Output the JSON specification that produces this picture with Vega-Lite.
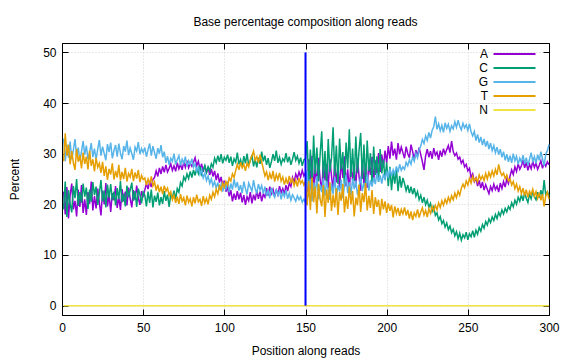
{
"$schema": "https://vega.github.io/schema/vega-lite/v6.json",
"width": 487, "height": 272,
"autosize": {"type": "none"},
"padding": {"left": 62, "top": 43, "right": 27, "bottom": 45},
"title": {"text": "Base percentage composition along reads", "fontSize": 12, "fontWeight": "normal", "font": "Liberation Sans", "offset": 14, "color": "black", "anchor": "middle"},
"config": {
  "view": {"stroke": "black", "strokeWidth": 1},
  "font": "Liberation Sans",
  "axis": {"labelFontSize": 12, "labelColor": "black", "labelFont": "Liberation Sans", "titleFont": "Liberation Sans", "titleFontSize": 12, "titleFontWeight": "normal", "titleColor": "black", "tickColor": "black", "domainColor": "black", "gridColor": "#c8c8c8", "gridDash": [1, 2], "gridWidth": 0.8, "tickSize": -6, "tickWidth": 1, "labelFlush": false}
},
"resolve": {"axis": {"x": "independent", "y": "independent"}},
"datasets": {
"comp": [
{"pos":1,"A":22.5,"C":19.0,"G":33.0,"T":28.5,"N":0},
{"pos":2,"A":18.0,"C":24.5,"G":28.5,"T":34.0,"N":0},
{"pos":3,"A":23.4,"C":17.5,"G":31.8,"T":29.6,"N":0},
{"pos":4,"A":17.2,"C":22.8,"G":29.2,"T":31.8,"N":0},
{"pos":5,"A":21.8,"C":20.1,"G":32.4,"T":27.9,"N":0},
{"pos":6,"A":24.1,"C":18.4,"G":28.9,"T":30.5,"N":0},
{"pos":7,"A":19.0,"C":23.6,"G":30.7,"T":28.2,"N":0},
{"pos":8,"A":20.7,"C":21.2,"G":32.9,"T":26.8,"N":0},
{"pos":9,"A":17.6,"C":25.0,"G":29.5,"T":30.9,"N":0},
{"pos":10,"A":22.9,"C":19.7,"G":31.2,"T":28.4,"N":0},
{"pos":11,"A":19.5,"C":22.4,"G":28.6,"T":29.7,"N":0},
{"pos":12,"A":23.8,"C":20.3,"G":30.4,"T":27.1,"N":0},
{"pos":13,"A":18.3,"C":24.1,"G":32.5,"T":30.2,"N":0},
{"pos":14,"A":21.0,"C":21.5,"G":29.8,"T":28.0,"N":0},
{"pos":15,"A":17.9,"C":23.3,"G":31.6,"T":29.4,"N":0},
{"pos":16,"A":22.4,"C":19.1,"G":28.9,"T":26.9,"N":0},
{"pos":17,"A":20.1,"C":22.9,"G":30.2,"T":30.6,"N":0},
{"pos":18,"A":24.5,"C":20.5,"G":32.1,"T":27.6,"N":0},
{"pos":19,"A":18.8,"C":24.4,"G":29.3,"T":28.9,"N":0},
{"pos":20,"A":21.6,"C":21.8,"G":31.0,"T":26.5,"N":0},
{"pos":21,"A":19.2,"C":23.5,"G":28.8,"T":29.2,"N":0},
{"pos":22,"A":23.1,"C":19.9,"G":30.9,"T":27.3,"N":0},
{"pos":23,"A":20.4,"C":22.2,"G":32.7,"T":28.1,"N":0},
{"pos":24,"A":17.8,"C":24.8,"G":29.6,"T":26.2,"N":0},
{"pos":25,"A":22.7,"C":20.6,"G":31.4,"T":28.4,"N":0},
{"pos":26,"A":20.0,"C":22.7,"G":30.0,"T":25.6,"N":0},
{"pos":27,"A":24.2,"C":19.4,"G":28.7,"T":27.5,"N":0},
{"pos":28,"A":19.6,"C":23.9,"G":31.9,"T":24.8,"N":0},
{"pos":29,"A":21.9,"C":21.3,"G":30.3,"T":27.0,"N":0},
{"pos":30,"A":18.5,"C":24.0,"G":32.2,"T":25.9,"N":0},
{"pos":31,"A":22.2,"C":20.8,"G":29.1,"T":28.1,"N":0},
{"pos":32,"A":20.8,"C":22.5,"G":30.6,"T":24.9,"N":0},
{"pos":33,"A":23.6,"C":19.8,"G":31.7,"T":26.6,"N":0},
{"pos":34,"A":19.3,"C":23.2,"G":29.4,"T":25.3,"N":0},
{"pos":35,"A":21.4,"C":21.0,"G":32.0,"T":27.8,"N":0},
{"pos":36,"A":18.9,"C":24.6,"G":30.1,"T":24.7,"N":0},
{"pos":37,"A":23.0,"C":20.4,"G":28.9,"T":26.4,"N":0},
{"pos":38,"A":20.6,"C":22.1,"G":31.5,"T":25.0,"N":0},
{"pos":39,"A":22.5,"C":19.6,"G":30.4,"T":27.2,"N":0},
{"pos":40,"A":19.8,"C":23.7,"G":32.6,"T":24.5,"N":0},
{"pos":41,"A":23.3,"C":21.4,"G":29.7,"T":26.1,"N":0},
{"pos":42,"A":21.1,"C":22.8,"G":31.1,"T":25.4,"N":0},
{"pos":43,"A":19.4,"C":24.3,"G":30.0,"T":27.0,"N":0},
{"pos":44,"A":22.8,"C":20.7,"G":28.8,"T":24.6,"N":0},
{"pos":45,"A":20.9,"C":22.6,"G":31.3,"T":26.3,"N":0},
{"pos":46,"A":23.7,"C":19.5,"G":30.5,"T":25.1,"N":0},
{"pos":47,"A":21.3,"C":23.1,"G":32.3,"T":26.8,"N":0},
{"pos":48,"A":19.9,"C":21.9,"G":29.9,"T":24.4,"N":0},
{"pos":49,"A":22.6,"C":20.2,"G":31.0,"T":25.7,"N":0},
{"pos":50,"A":21.7,"C":22.4,"G":30.2,"T":24.9,"N":0},
{"pos":51,"A":22.8,"C":21.8,"G":31.2,"T":25.2,"N":0},
{"pos":52,"A":24.1,"C":19.6,"G":29.4,"T":23.8,"N":0},
{"pos":53,"A":23.0,"C":22.5,"G":30.8,"T":25.0,"N":0},
{"pos":54,"A":24.6,"C":20.3,"G":32.0,"T":24.1,"N":0},
{"pos":55,"A":23.4,"C":22.9,"G":29.6,"T":25.5,"N":0},
{"pos":56,"A":24.9,"C":19.4,"G":31.5,"T":23.6,"N":0},
{"pos":57,"A":25.3,"C":21.7,"G":30.2,"T":24.4,"N":0},
{"pos":58,"A":26.6,"C":20.5,"G":29.0,"T":22.7,"N":0},
{"pos":59,"A":25.5,"C":22.3,"G":31.1,"T":23.9,"N":0},
{"pos":60,"A":27.2,"C":19.8,"G":30.0,"T":22.4,"N":0},
{"pos":61,"A":26.0,"C":21.4,"G":31.7,"T":23.5,"N":0},
{"pos":62,"A":27.5,"C":20.1,"G":29.3,"T":22.0,"N":0},
{"pos":63,"A":26.3,"C":22.6,"G":30.4,"T":23.7,"N":0},
{"pos":64,"A":27.8,"C":20.7,"G":28.2,"T":22.6,"N":0},
{"pos":65,"A":26.4,"C":21.9,"G":29.5,"T":23.2,"N":0},
{"pos":66,"A":27.1,"C":19.5,"G":27.8,"T":21.8,"N":0},
{"pos":67,"A":28.0,"C":22.0,"G":29.1,"T":22.5,"N":0},
{"pos":68,"A":26.7,"C":21.2,"G":28.5,"T":20.9,"N":0},
{"pos":69,"A":27.6,"C":22.7,"G":30.0,"T":21.8,"N":0},
{"pos":70,"A":26.5,"C":21.0,"G":27.9,"T":20.3,"N":0},
{"pos":71,"A":28.2,"C":23.1,"G":28.8,"T":21.5,"N":0},
{"pos":72,"A":27.0,"C":22.4,"G":29.6,"T":20.1,"N":0},
{"pos":73,"A":27.9,"C":24.3,"G":27.7,"T":22.0,"N":0},
{"pos":74,"A":26.8,"C":23.6,"G":28.9,"T":20.6,"N":0},
{"pos":75,"A":28.4,"C":25.4,"G":28.1,"T":21.3,"N":0},
{"pos":76,"A":27.3,"C":24.7,"G":29.4,"T":19.8,"N":0},
{"pos":77,"A":28.6,"C":26.0,"G":27.5,"T":21.7,"N":0},
{"pos":78,"A":27.2,"C":25.1,"G":28.6,"T":20.4,"N":0},
{"pos":79,"A":28.1,"C":26.5,"G":27.9,"T":21.1,"N":0},
{"pos":80,"A":27.5,"C":25.3,"G":29.0,"T":19.6,"N":0},
{"pos":81,"A":28.3,"C":26.8,"G":27.3,"T":21.4,"N":0},
{"pos":82,"A":29.2,"C":25.7,"G":28.0,"T":20.2,"N":0},
{"pos":83,"A":27.6,"C":27.2,"G":26.6,"T":21.9,"N":0},
{"pos":84,"A":28.5,"C":26.1,"G":27.4,"T":20.5,"N":0},
{"pos":85,"A":26.9,"C":27.5,"G":25.9,"T":21.0,"N":0},
{"pos":86,"A":28.0,"C":25.9,"G":26.8,"T":19.7,"N":0},
{"pos":87,"A":26.4,"C":26.8,"G":25.2,"T":21.6,"N":0},
{"pos":88,"A":27.7,"C":27.7,"G":26.1,"T":20.3,"N":0},
{"pos":89,"A":26.2,"C":26.3,"G":24.7,"T":21.2,"N":0},
{"pos":90,"A":27.4,"C":27.4,"G":25.6,"T":20.0,"N":0},
{"pos":91,"A":25.8,"C":26.6,"G":24.1,"T":21.8,"N":0},
{"pos":92,"A":27.0,"C":28.0,"G":25.0,"T":21.0,"N":0},
{"pos":93,"A":25.5,"C":27.3,"G":23.6,"T":22.4,"N":0},
{"pos":94,"A":26.6,"C":29.1,"G":24.5,"T":21.5,"N":0},
{"pos":95,"A":24.8,"C":28.2,"G":23.2,"T":23.0,"N":0},
{"pos":96,"A":26.1,"C":29.6,"G":24.3,"T":22.1,"N":0},
{"pos":97,"A":24.3,"C":28.4,"G":22.8,"T":23.6,"N":0},
{"pos":98,"A":25.4,"C":29.9,"G":23.9,"T":22.8,"N":0},
{"pos":99,"A":23.6,"C":28.1,"G":22.5,"T":24.2,"N":0},
{"pos":100,"A":24.7,"C":29.3,"G":24.0,"T":23.4,"N":0},
{"pos":101,"A":22.5,"C":28.7,"G":23.0,"T":24.5,"N":0},
{"pos":102,"A":23.4,"C":29.8,"G":24.6,"T":23.8,"N":0},
{"pos":103,"A":21.6,"C":28.2,"G":22.4,"T":25.2,"N":0},
{"pos":104,"A":22.8,"C":29.4,"G":24.1,"T":24.6,"N":0},
{"pos":105,"A":20.6,"C":27.6,"G":22.9,"T":26.0,"N":0},
{"pos":106,"A":22.1,"C":29.0,"G":25.0,"T":25.3,"N":0},
{"pos":107,"A":20.9,"C":28.3,"G":23.3,"T":26.7,"N":0},
{"pos":108,"A":22.6,"C":30.2,"G":24.4,"T":27.9,"N":0},
{"pos":109,"A":21.0,"C":27.9,"G":22.7,"T":26.8,"N":0},
{"pos":110,"A":22.3,"C":28.8,"G":23.8,"T":28.3,"N":0},
{"pos":111,"A":20.4,"C":27.4,"G":22.2,"T":27.2,"N":0},
{"pos":112,"A":21.8,"C":29.5,"G":24.5,"T":27.9,"N":0},
{"pos":113,"A":19.9,"C":28.1,"G":23.1,"T":26.6,"N":0},
{"pos":114,"A":21.5,"C":30.0,"G":22.0,"T":28.1,"N":0},
{"pos":115,"A":20.7,"C":27.7,"G":24.2,"T":27.4,"N":0},
{"pos":116,"A":22.4,"C":28.6,"G":23.4,"T":28.8,"N":0},
{"pos":117,"A":20.2,"C":29.7,"G":22.6,"T":29.6,"N":0},
{"pos":118,"A":21.9,"C":27.5,"G":24.8,"T":30.5,"N":0},
{"pos":119,"A":20.8,"C":28.9,"G":23.0,"T":28.7,"N":0},
{"pos":120,"A":22.7,"C":27.3,"G":22.3,"T":29.4,"N":0},
{"pos":121,"A":21.1,"C":29.2,"G":24.0,"T":28.2,"N":0},
{"pos":122,"A":22.5,"C":28.0,"G":22.8,"T":29.8,"N":0},
{"pos":123,"A":20.6,"C":30.4,"G":23.7,"T":28.4,"N":0},
{"pos":124,"A":22.0,"C":28.5,"G":22.1,"T":27.0,"N":0},
{"pos":125,"A":21.4,"C":29.6,"G":23.5,"T":25.6,"N":0},
{"pos":126,"A":23.2,"C":27.8,"G":21.6,"T":26.4,"N":0},
{"pos":127,"A":21.7,"C":29.1,"G":22.9,"T":24.8,"N":0},
{"pos":128,"A":23.5,"C":27.2,"G":21.2,"T":26.1,"N":0},
{"pos":129,"A":22.1,"C":28.4,"G":23.3,"T":25.0,"N":0},
{"pos":130,"A":23.0,"C":29.9,"G":22.0,"T":26.6,"N":0},
{"pos":131,"A":21.6,"C":28.6,"G":21.4,"T":24.5,"N":0},
{"pos":132,"A":22.8,"C":30.6,"G":23.0,"T":25.9,"N":0},
{"pos":133,"A":21.9,"C":28.2,"G":21.8,"T":24.9,"N":0},
{"pos":134,"A":23.6,"C":29.3,"G":22.6,"T":26.2,"N":0},
{"pos":135,"A":22.3,"C":27.9,"G":21.0,"T":24.6,"N":0},
{"pos":136,"A":23.1,"C":29.0,"G":22.4,"T":25.4,"N":0},
{"pos":137,"A":22.0,"C":28.5,"G":21.5,"T":23.9,"N":0},
{"pos":138,"A":23.8,"C":30.1,"G":22.8,"T":25.1,"N":0},
{"pos":139,"A":22.6,"C":28.3,"G":21.1,"T":24.0,"N":0},
{"pos":140,"A":24.2,"C":29.4,"G":22.2,"T":25.6,"N":0},
{"pos":141,"A":23.5,"C":27.8,"G":20.8,"T":24.3,"N":0},
{"pos":142,"A":25.3,"C":28.9,"G":21.9,"T":25.0,"N":0},
{"pos":143,"A":24.4,"C":30.3,"G":21.3,"T":23.7,"N":0},
{"pos":144,"A":26.0,"C":28.7,"G":20.6,"T":24.8,"N":0},
{"pos":145,"A":25.1,"C":29.5,"G":21.7,"T":23.5,"N":0},
{"pos":146,"A":26.4,"C":28.1,"G":20.9,"T":25.2,"N":0},
{"pos":147,"A":25.4,"C":29.2,"G":21.5,"T":24.1,"N":0},
{"pos":148,"A":26.7,"C":27.6,"G":20.4,"T":24.7,"N":0},
{"pos":149,"A":25.6,"C":28.8,"G":21.0,"T":23.8,"N":0},
{"pos":150,"A":26.2,"C":29.0,"G":20.3,"T":24.5,"N":0},
{"pos":151,"A":22.4,"C":32.5,"G":26.5,"T":19.8,"N":0},
{"pos":152,"A":28.9,"C":24.3,"G":21.4,"T":24.6,"N":0},
{"pos":153,"A":24.1,"C":30.8,"G":25.0,"T":18.9,"N":0},
{"pos":154,"A":29.6,"C":23.1,"G":20.6,"T":25.3,"N":0},
{"pos":155,"A":22.8,"C":33.6,"G":24.3,"T":20.4,"N":0},
{"pos":156,"A":27.5,"C":26.0,"G":22.1,"T":23.5,"N":0},
{"pos":157,"A":23.9,"C":31.2,"G":25.6,"T":18.2,"N":0},
{"pos":158,"A":29.2,"C":24.5,"G":21.0,"T":24.1,"N":0},
{"pos":159,"A":25.0,"C":29.8,"G":23.9,"T":21.0,"N":0},
{"pos":160,"A":22.6,"C":34.4,"G":22.4,"T":19.6,"N":0},
{"pos":161,"A":28.4,"C":25.2,"G":25.2,"T":23.8,"N":0},
{"pos":162,"A":24.7,"C":30.5,"G":21.7,"T":17.5,"N":0},
{"pos":163,"A":27.9,"C":23.8,"G":24.6,"T":22.9,"N":0},
{"pos":164,"A":23.2,"C":32.9,"G":22.8,"T":20.3,"N":0},
{"pos":165,"A":29.0,"C":26.4,"G":20.9,"T":24.4,"N":0},
{"pos":166,"A":25.6,"C":29.1,"G":24.1,"T":18.7,"N":0},
{"pos":167,"A":22.9,"C":35.2,"G":22.0,"T":21.9,"N":0},
{"pos":168,"A":28.1,"C":25.7,"G":25.4,"T":19.4,"N":0},
{"pos":169,"A":24.3,"C":31.6,"G":21.5,"T":23.2,"N":0},
{"pos":170,"A":27.4,"C":24.0,"G":23.8,"T":17.9,"N":0},
{"pos":171,"A":23.0,"C":33.0,"G":22.5,"T":22.4,"N":0},
{"pos":172,"A":28.8,"C":26.9,"G":24.9,"T":20.7,"N":0},
{"pos":173,"A":25.2,"C":30.3,"G":21.2,"T":24.0,"N":0},
{"pos":174,"A":29.5,"C":23.5,"G":23.6,"T":18.4,"N":0},
{"pos":175,"A":23.6,"C":32.2,"G":25.8,"T":21.6,"N":0},
{"pos":176,"A":26.9,"C":27.1,"G":22.2,"T":19.1,"N":0},
{"pos":177,"A":22.5,"C":34.8,"G":24.4,"T":23.5,"N":0},
{"pos":178,"A":28.3,"C":25.4,"G":21.8,"T":20.0,"N":0},
{"pos":179,"A":24.8,"C":31.0,"G":25.1,"T":22.6,"N":0},
{"pos":180,"A":27.2,"C":24.6,"G":23.0,"T":17.6,"N":0},
{"pos":181,"A":23.4,"C":33.4,"G":24.7,"T":21.3,"N":0},
{"pos":182,"A":29.1,"C":26.2,"G":21.9,"T":19.8,"N":0},
{"pos":183,"A":25.5,"C":30.7,"G":23.4,"T":23.9,"N":0},
{"pos":184,"A":22.7,"C":34.1,"G":25.5,"T":18.5,"N":0},
{"pos":185,"A":28.6,"C":25.0,"G":22.6,"T":22.2,"N":0},
{"pos":186,"A":24.0,"C":31.8,"G":24.2,"T":20.4,"N":0},
{"pos":187,"A":27.7,"C":24.2,"G":23.1,"T":24.2,"N":0},
{"pos":188,"A":23.3,"C":32.6,"G":25.9,"T":18.8,"N":0},
{"pos":189,"A":28.0,"C":26.6,"G":22.7,"T":21.7,"N":0},
{"pos":190,"A":25.8,"C":30.1,"G":24.8,"T":19.3,"N":0},
{"pos":191,"A":29.4,"C":23.9,"G":23.5,"T":22.8,"N":0},
{"pos":192,"A":24.5,"C":31.4,"G":25.3,"T":18.1,"N":0},
{"pos":193,"A":28.7,"C":25.8,"G":24.0,"T":21.4,"N":0},
{"pos":194,"A":25.9,"C":29.5,"G":26.2,"T":19.5,"N":0},
{"pos":195,"A":30.1,"C":24.4,"G":24.5,"T":20.9,"N":0},
{"pos":196,"A":26.4,"C":30.9,"G":25.7,"T":17.8,"N":0},
{"pos":197,"A":29.8,"C":26.1,"G":24.1,"T":21.1,"N":0},
{"pos":198,"A":27.3,"C":28.8,"G":26.0,"T":19.0,"N":0},
{"pos":199,"A":30.6,"C":24.9,"G":25.0,"T":20.6,"N":0},
{"pos":200,"A":28.2,"C":28.3,"G":26.6,"T":18.3,"N":0},
{"pos":201,"A":31.5,"C":23.6,"G":25.2,"T":20.2,"N":0},
{"pos":202,"A":29.0,"C":27.4,"G":27.1,"T":18.7,"N":0},
{"pos":203,"A":32.4,"C":22.8,"G":25.6,"T":19.9,"N":0},
{"pos":204,"A":29.6,"C":26.5,"G":26.8,"T":17.4,"N":0},
{"pos":205,"A":31.0,"C":24.1,"G":25.9,"T":19.6,"N":0},
{"pos":206,"A":28.8,"C":27.0,"G":27.5,"T":18.2,"N":0},
{"pos":207,"A":32.1,"C":22.6,"G":26.3,"T":19.3,"N":0},
{"pos":208,"A":29.9,"C":25.6,"G":27.9,"T":17.7,"N":0},
{"pos":209,"A":31.3,"C":23.3,"G":26.7,"T":19.0,"N":0},
{"pos":210,"A":30.2,"C":25.2,"G":27.4,"T":18.1,"N":0},
{"pos":211,"A":29.1,"C":24.1,"G":26.9,"T":19.4,"N":0},
{"pos":212,"A":31.4,"C":22.7,"G":28.3,"T":17.8,"N":0},
{"pos":213,"A":30.0,"C":23.8,"G":27.6,"T":18.9,"N":0},
{"pos":214,"A":29.2,"C":22.2,"G":28.8,"T":17.2,"N":0},
{"pos":215,"A":31.8,"C":23.5,"G":27.9,"T":18.6,"N":0},
{"pos":216,"A":30.4,"C":22.0,"G":29.4,"T":16.9,"N":0},
{"pos":217,"A":28.9,"C":23.2,"G":28.5,"T":18.3,"N":0},
{"pos":218,"A":30.7,"C":21.6,"G":30.1,"T":17.6,"N":0},
{"pos":219,"A":29.5,"C":22.5,"G":29.2,"T":19.0,"N":0},
{"pos":220,"A":31.2,"C":20.9,"G":30.8,"T":17.4,"N":0},
{"pos":221,"A":29.8,"C":21.8,"G":31.5,"T":18.5,"N":0},
{"pos":222,"A":28.4,"C":20.3,"G":32.8,"T":19.3,"N":0},
{"pos":223,"A":26.8,"C":21.4,"G":32.0,"T":17.9,"N":0},
{"pos":224,"A":29.6,"C":19.9,"G":33.5,"T":18.8,"N":0},
{"pos":225,"A":30.9,"C":20.8,"G":32.6,"T":17.5,"N":0},
{"pos":226,"A":29.3,"C":19.4,"G":34.2,"T":19.1,"N":0},
{"pos":227,"A":30.5,"C":20.2,"G":33.1,"T":18.2,"N":0},
{"pos":228,"A":29.0,"C":18.6,"G":34.6,"T":19.6,"N":0},
{"pos":229,"A":31.1,"C":19.5,"G":35.3,"T":18.7,"N":0},
{"pos":230,"A":29.7,"C":17.8,"G":37.3,"T":19.8,"N":0},
{"pos":231,"A":30.3,"C":18.3,"G":34.8,"T":18.9,"N":0},
{"pos":232,"A":28.8,"C":16.9,"G":35.9,"T":20.3,"N":0},
{"pos":233,"A":30.6,"C":17.6,"G":34.5,"T":19.4,"N":0},
{"pos":234,"A":29.4,"C":16.2,"G":35.6,"T":20.7,"N":0},
{"pos":235,"A":31.0,"C":16.8,"G":34.2,"T":19.8,"N":0},
{"pos":236,"A":29.9,"C":15.5,"G":36.1,"T":21.0,"N":0},
{"pos":237,"A":30.8,"C":16.3,"G":35.0,"T":20.2,"N":0},
{"pos":238,"A":31.6,"C":15.0,"G":35.8,"T":21.4,"N":0},
{"pos":239,"A":30.2,"C":15.7,"G":34.4,"T":20.5,"N":0},
{"pos":240,"A":32.5,"C":14.4,"G":35.5,"T":21.7,"N":0},
{"pos":241,"A":30.4,"C":15.1,"G":34.9,"T":20.9,"N":0},
{"pos":242,"A":29.6,"C":13.8,"G":36.3,"T":22.2,"N":0},
{"pos":243,"A":30.1,"C":14.6,"G":35.2,"T":21.3,"N":0},
{"pos":244,"A":28.9,"C":13.2,"G":36.6,"T":22.6,"N":0},
{"pos":245,"A":29.3,"C":14.3,"G":35.4,"T":21.8,"N":0},
{"pos":246,"A":28.1,"C":12.9,"G":34.7,"T":23.2,"N":0},
{"pos":247,"A":28.7,"C":14.0,"G":36.0,"T":24.0,"N":0},
{"pos":248,"A":27.4,"C":13.4,"G":35.1,"T":23.3,"N":0},
{"pos":249,"A":27.9,"C":14.5,"G":35.7,"T":24.6,"N":0},
{"pos":250,"A":26.6,"C":13.0,"G":34.6,"T":23.8,"N":0},
{"pos":251,"A":27.1,"C":14.2,"G":35.9,"T":25.1,"N":0},
{"pos":252,"A":25.3,"C":13.6,"G":34.3,"T":24.2,"N":0},
{"pos":253,"A":26.0,"C":14.8,"G":33.5,"T":25.5,"N":0},
{"pos":254,"A":24.5,"C":13.5,"G":34.4,"T":24.6,"N":0},
{"pos":255,"A":25.2,"C":14.9,"G":32.6,"T":25.2,"N":0},
{"pos":256,"A":23.6,"C":14.1,"G":33.8,"T":24.4,"N":0},
{"pos":257,"A":24.7,"C":15.4,"G":32.2,"T":25.8,"N":0},
{"pos":258,"A":23.2,"C":14.7,"G":33.3,"T":24.9,"N":0},
{"pos":259,"A":24.4,"C":16.0,"G":31.7,"T":25.6,"N":0},
{"pos":260,"A":22.8,"C":15.3,"G":32.9,"T":24.7,"N":0},
{"pos":261,"A":23.9,"C":16.6,"G":31.4,"T":26.1,"N":0},
{"pos":262,"A":23.0,"C":15.9,"G":32.5,"T":25.0,"N":0},
{"pos":263,"A":22.1,"C":17.1,"G":30.9,"T":26.3,"N":0},
{"pos":264,"A":23.5,"C":16.4,"G":32.1,"T":25.4,"N":0},
{"pos":265,"A":22.7,"C":17.5,"G":30.6,"T":26.6,"N":0},
{"pos":266,"A":24.0,"C":16.8,"G":31.6,"T":25.6,"N":0},
{"pos":267,"A":22.9,"C":18.0,"G":30.2,"T":26.9,"N":0},
{"pos":268,"A":23.6,"C":17.2,"G":31.3,"T":25.8,"N":0},
{"pos":269,"A":22.4,"C":18.4,"G":29.8,"T":27.9,"N":0},
{"pos":270,"A":24.2,"C":17.7,"G":30.9,"T":26.4,"N":0},
{"pos":271,"A":23.1,"C":18.9,"G":29.3,"T":25.7,"N":0},
{"pos":272,"A":24.5,"C":18.1,"G":30.4,"T":26.2,"N":0},
{"pos":273,"A":23.4,"C":19.2,"G":28.7,"T":25.1,"N":0},
{"pos":274,"A":25.0,"C":18.5,"G":29.9,"T":25.8,"N":0},
{"pos":275,"A":24.1,"C":19.6,"G":28.4,"T":24.6,"N":0},
{"pos":276,"A":25.6,"C":19.0,"G":29.6,"T":25.0,"N":0},
{"pos":277,"A":26.8,"C":20.3,"G":28.2,"T":23.8,"N":0},
{"pos":278,"A":25.9,"C":19.5,"G":30.0,"T":24.5,"N":0},
{"pos":279,"A":27.4,"C":20.8,"G":28.6,"T":23.1,"N":0},
{"pos":280,"A":26.5,"C":20.0,"G":29.5,"T":24.0,"N":0},
{"pos":281,"A":28.0,"C":21.4,"G":27.9,"T":22.6,"N":0},
{"pos":282,"A":26.9,"C":20.6,"G":29.1,"T":23.5,"N":0},
{"pos":283,"A":27.6,"C":21.9,"G":28.3,"T":22.1,"N":0},
{"pos":284,"A":28.7,"C":20.7,"G":29.7,"T":23.2,"N":0},
{"pos":285,"A":27.2,"C":22.3,"G":28.0,"T":21.7,"N":0},
{"pos":286,"A":28.3,"C":21.2,"G":29.2,"T":22.9,"N":0},
{"pos":287,"A":26.7,"C":20.4,"G":27.7,"T":21.4,"N":0},
{"pos":288,"A":27.9,"C":22.0,"G":28.9,"T":22.6,"N":0},
{"pos":289,"A":27.0,"C":21.1,"G":30.2,"T":21.9,"N":0},
{"pos":290,"A":28.5,"C":22.6,"G":28.5,"T":23.0,"N":0},
{"pos":291,"A":27.3,"C":21.5,"G":29.4,"T":21.6,"N":0},
{"pos":292,"A":28.1,"C":20.9,"G":28.1,"T":22.5,"N":0},
{"pos":293,"A":26.9,"C":22.4,"G":29.8,"T":21.2,"N":0},
{"pos":294,"A":27.7,"C":21.3,"G":28.7,"T":22.3,"N":0},
{"pos":295,"A":28.6,"C":22.8,"G":30.4,"T":20.8,"N":0},
{"pos":296,"A":27.1,"C":21.6,"G":29.0,"T":22.0,"N":0},
{"pos":297,"A":28.2,"C":24.8,"G":27.6,"T":19.6,"N":0},
{"pos":298,"A":27.5,"C":21.8,"G":29.9,"T":21.7,"N":0},
{"pos":299,"A":28.4,"C":22.5,"G":30.6,"T":22.4,"N":0},
{"pos":300,"A":27.8,"C":21.7,"G":31.8,"T":21.0,"N":0}
],
"divider": [{"x": 150, "y0": 0, "y1": 50}]
},
"layer": [
{
  "data": {"name": "comp"},
  "transform": [{"fold": ["A", "C", "G", "T", "N"], "as": ["base", "pct"]}],
  "mark": {"type": "line", "strokeWidth": 1.5},
  "encoding": {
    "x": {"field": "pos", "type": "quantitative", "scale": {"domain": [0, 300], "nice": false, "zero": false},
      "axis": {"orient": "bottom", "values": [0, 50, 100, 150, 200, 250, 300], "title": "Position along reads", "grid": true, "labelPadding": 13, "titleX": 243.5, "titleY": 35, "titleBaseline": "middle", "titleAlign": "center"}},
    "y": {"field": "pct", "type": "quantitative", "scale": {"domain": [-1.85, 51.85], "nice": false, "zero": false},
      "axis": {"orient": "left", "values": [0, 10, 20, 30, 40, 50], "title": "Percent", "grid": true, "labelPadding": 12, "titleX": -48, "titleY": 136, "titleBaseline": "middle", "titleAlign": "center"}},
    "color": {"field": "base", "type": "nominal",
      "scale": {"domain": ["A", "C", "G", "T", "N"], "range": ["#9400d3", "#009e73", "#56b4e9", "#e69f00", "#f0e442"]},
      "legend": {"orient": "none", "legendX": 444.5, "legendY": 3, "title": null, "symbolType": "M-3,0H3", "symbolSize": 196, "symbolStrokeWidth": 2, "symbolOffset": 0, "labelAlign": "right", "labelOffset": -34.5, "labelFontSize": 12, "labelColor": "black", "labelFont": "Liberation Sans", "rowPadding": 0, "padding": 0}}
  }
},
{
  "data": {"name": "divider"},
  "mark": {"type": "rule", "color": "#0000ff", "strokeWidth": 2},
  "encoding": {
    "x": {"field": "x", "type": "quantitative", "axis": {"orient": "top", "values": [0, 50, 100, 150, 200, 250, 300], "labels": false, "title": null, "grid": false}},
    "y": {"field": "y0", "type": "quantitative", "axis": {"orient": "right", "values": [0, 10, 20, 30, 40, 50], "labels": false, "title": null, "grid": false}},
    "y2": {"field": "y1"}
  }
}
]
}
